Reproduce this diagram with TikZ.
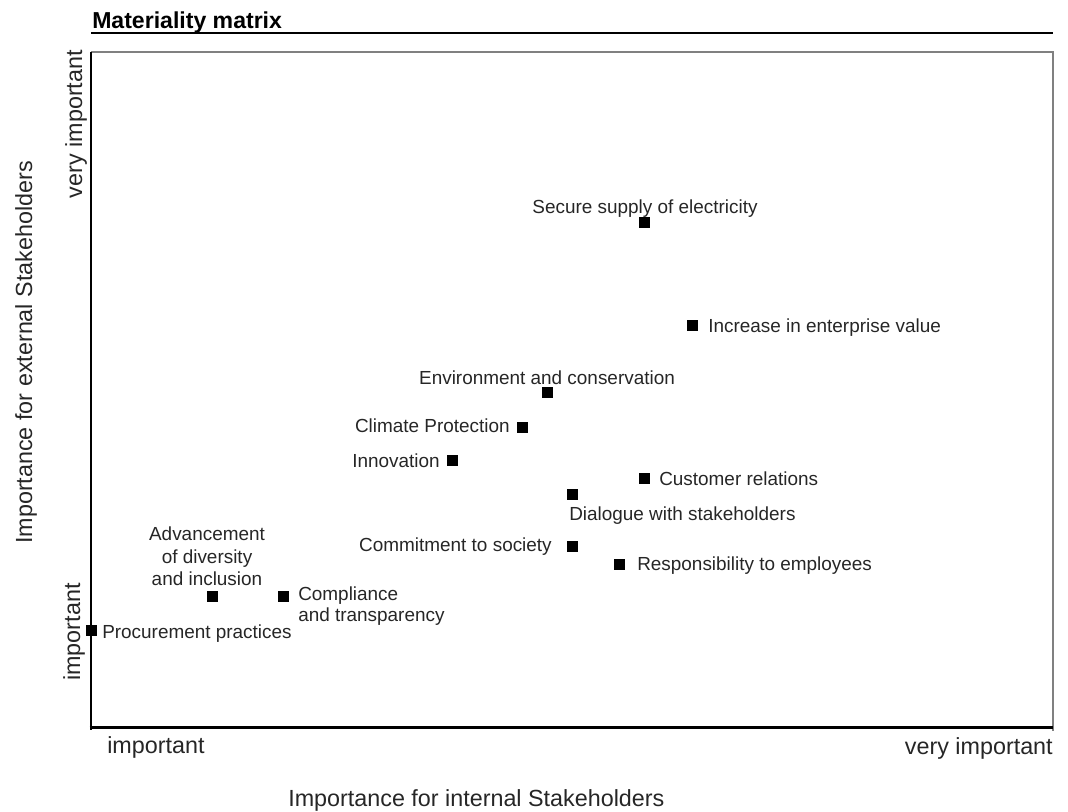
\documentclass[tikz,border=0pt]{standalone}
\usepackage{fontspec}
\setmainfont{Liberation Sans}
\begin{document}
\begin{tikzpicture}[x=0.75pt,y=-0.75pt,
  sq/.style={fill=black,draw=none,minimum size=8.25pt,inner sep=0pt},
  lbl/.style={inner sep=0pt,text=black!85,font=\fontsize{14.2}{17}\selectfont},
  axl/.style={inner sep=0pt,text=black!85,font=\fontsize{17.5}{21}\selectfont},
  ttl/.style={inner sep=0pt,text=black,font=\bfseries\fontsize{17.3}{21}\selectfont}]
\useasboundingbox (0,0) rectangle (1068,811);
% title
\node[ttl,anchor=base west] (title) at (92,28) {Materiality matrix};
\draw[line width=1.5pt] (91,32.5) -- (1053,32.5);
% frame
\draw[black!50,line width=1.4pt] (91,52) -- (1053,52) -- (1053,731);
\draw[line width=2.2pt] (91,52) -- (91,730);
\draw[line width=2.2pt] (89.5,727.5) -- (1053,727.5);
% axis labels
\node[axl,rotate=90,anchor=base east] (yhi) at (82,50) {very important};
\node[axl,rotate=90,anchor=base] (ylo) at (80,632) {important};
\node[axl,rotate=90,anchor=base west] (ytitle) at (32,544) {Importance for external Stakeholders};
\node[axl,anchor=base west] (xlo) at (107,753) {important};
\node[axl,anchor=base east] (xhi) at (1053,754) {very important};
\node[axl,anchor=base west] (xtitle) at (288,806) {Importance for internal Stakeholders};
% points
\node[sq] (p1) at (644,222) {};
\node[sq] (p2) at (692,325) {};
\node[sq] (p3) at (547,392) {};
\node[sq] (p4) at (522,427) {};
\node[sq] (p5) at (452,460) {};
\node[sq] (p6) at (644,478) {};
\node[sq] (p7) at (572,494) {};
\node[sq] (p8) at (572,546) {};
\node[sq] (p9) at (619,564) {};
\node[sq] (p10) at (212,596) {};
\node[sq] (p11) at (283,596) {};
\node[sq] (p12) at (91,630) {};
% labels
\node[lbl,anchor=base] (l1) at (645,213) {Secure supply of electricity};
\node[lbl,anchor=base west] (l2) at (708,332) {Increase in enterprise value};
\node[lbl,anchor=base] (l3) at (547,384) {Environment and conservation};
\node[lbl,anchor=base east] (l4) at (510,432) {Climate Protection};
\node[lbl,anchor=base east] (l5) at (440,467) {Innovation};
\node[lbl,anchor=base west] (l6) at (659,485) {Customer relations};
\node[lbl,anchor=base west] (l7) at (569,520) {Dialogue with stakeholders};
\node[lbl,anchor=base east] (l8) at (552,551) {Commitment to society};
\node[lbl,anchor=base west] (l9) at (637,570) {Responsibility to employees};
\node[lbl,anchor=base] (l10a) at (207,540) {Advancement};
\node[lbl,anchor=base] (l10b) at (207,563) {of diversity};
\node[lbl,anchor=base] (l10c) at (207,585) {and inclusion};
\node[lbl,anchor=base west] (l11a) at (298,600) {Compliance};
\node[lbl,anchor=base west] (l11b) at (298,621) {and transparency};
\node[lbl,anchor=base west] (l12) at (102,638) {Procurement practices};
\end{tikzpicture}
\end{document}
